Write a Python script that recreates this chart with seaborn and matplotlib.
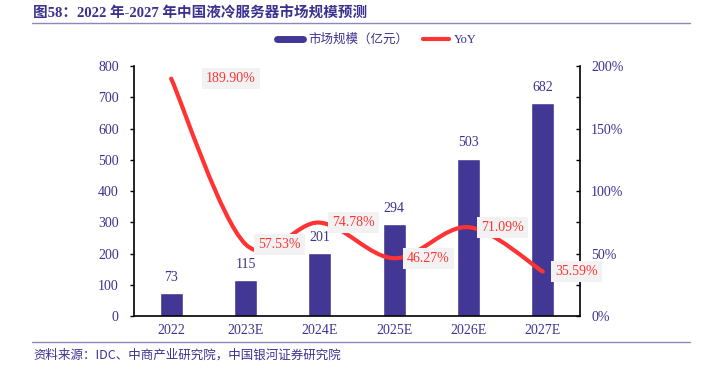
import numpy as np
import pandas as pd
import matplotlib
matplotlib.use('Agg')
import matplotlib.pyplot as plt
from matplotlib.path import Path
from matplotlib.patches import PathPatch
from matplotlib.lines import Line2D
from matplotlib.ticker import MultipleLocator, FuncFormatter
import seaborn as sns

# 数据
years = ['2022', '2023E', '2024E', '2025E', '2026E', '2027E']
market_size = [73, 115, 201, 294, 503, 682]
yoy = [189.90, 57.53, 74.78, 46.27, 71.09, 35.59]

title = '图58：2022 年-2027 年中国液冷服务器市场规模预测'
source = '资料来源：IDC、中商产业研究院，中国银河证券研究院'

BAR_C = '#433795'
TXT_C = '#3b3290'
RED = '#ff3333'
SERIF = ['Liberation Serif', 'Noto Sans CJK SC']
CJK = ['Noto Sans CJK SC', 'DejaVu Sans']

sns.set_style('white')
plt.rcParams['font.family'] = SERIF

df = pd.DataFrame({'year': years, 'size': market_size, 'yoy': yoy})

fig = plt.figure(figsize=(7.02, 3.75), dpi=100)
ax = fig.add_axes([0.1909, 0.157, 0.6353, 0.667])
sns.barplot(data=df, x='year', y='size', color=BAR_C, width=0.31,
            saturation=1, ax=ax)
ax.set_xlim(-0.5, 5.5)
ax.set_ylim(0, 800)
ax.yaxis.set_major_locator(MultipleLocator(100))
ax.set_xlabel('')
ax.set_ylabel('')
for s in ['top', 'right']:
    ax.spines[s].set_visible(False)
for s in ['left', 'bottom']:
    ax.spines[s].set_color('black')
    ax.spines[s].set_linewidth(1.2)
ax.tick_params(axis='y', direction='out', length=3, width=1, colors='black',
               labelcolor=TXT_C, labelsize=10, pad=8, left=True)
ax.tick_params(axis='x', length=0, labelcolor=TXT_C, labelsize=10, pad=6)

for i, v in enumerate(market_size):
    ax.text(i, v + 30, f'{v}', ha='center', va='bottom', color=TXT_C, fontsize=10)

# YoY 右轴
ax2 = ax.twinx()
ax2.set_ylim(0, 200)
ax2.yaxis.set_major_locator(MultipleLocator(50))
ax2.yaxis.set_minor_locator(MultipleLocator(25))
ax2.yaxis.set_major_formatter(FuncFormatter(lambda v, p: f'{v:.0f}%'))
for s in ['top', 'left', 'bottom']:
    ax2.spines[s].set_visible(False)
ax2.spines['right'].set_color('black')
ax2.spines['right'].set_linewidth(1.2)
ax2.tick_params(axis='y', which='both', direction='in', length=3, width=1,
                colors='black', labelcolor=TXT_C, labelsize=10, pad=8, right=True)

# 平滑曲线（Catmull-Rom -> Bezier）
xs = np.arange(len(yoy), dtype=float)
ys = np.array(yoy)
verts = [(xs[0], ys[0])]
codes = [Path.MOVETO]
t = 0.5
for k in range(len(xs) - 1):
    p0 = np.array([xs[max(k - 1, 0)], ys[max(k - 1, 0)]])
    p1 = np.array([xs[k], ys[k]])
    p2 = np.array([xs[k + 1], ys[k + 1]])
    p3 = np.array([xs[min(k + 2, len(xs) - 1)], ys[min(k + 2, len(xs) - 1)]])
    c1 = p1 + (p2 - p0) * t / 3
    c2 = p2 - (p3 - p1) * t / 3
    verts += [tuple(c1), tuple(c2), tuple(p2)]
    codes += [Path.CURVE4] * 3
ax2.add_patch(PathPatch(Path(verts, codes), fill=False, edgecolor=RED,
                        lw=3, capstyle='round', zorder=3))

for i, v in enumerate(yoy):
    dx = 25 if i == 0 else 9
    ax2.annotate(f'{v:.2f}%', xy=(i, v), xytext=(dx, 0), textcoords='offset points',
                 ha='left', va='center', color=RED, fontsize=10, zorder=4,
                 bbox=dict(boxstyle='square,pad=0.3', fc='#f2f2f2', ec='none'))

# 图例
handles = [Line2D([], [], color=BAR_C, lw=5),
           Line2D([], [], color=RED, lw=3)]
leg = fig.legend(handles, ['市场规模（亿元）', 'YoY'], loc='center',
                 bbox_to_anchor=(0.537, 0.893), ncol=2, frameon=False,
                 handlelength=2.1, columnspacing=1.2, handletextpad=0.4,
                 prop={'family': SERIF, 'size': 9})
for tx in leg.get_texts():
    tx.set_color(TXT_C)

# 标题与来源
fig.text(0.047, 0.965, title, ha='left', va='center', fontsize=10.5,
         fontweight='bold', color=TXT_C, family=SERIF)
fig.add_artist(Line2D([0.045, 0.983], [0.94, 0.94], color='#8c87bf', lw=1))
fig.add_artist(Line2D([0.045, 0.983], [0.087, 0.087], color='#8c87bf', lw=1))
fig.text(0.047, 0.053, source, ha='left', va='center', fontsize=9,
         color=TXT_C, family=CJK, style='italic')

plt.savefig('out.png', dpi=100)
